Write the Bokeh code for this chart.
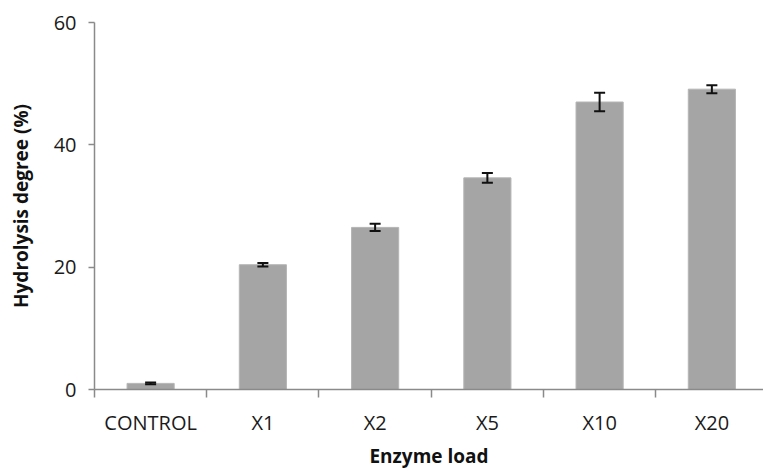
from bokeh.plotting import figure
from bokeh.models import Range1d, FixedTicker, Whisker, ColumnDataSource, TeeHead
from bokeh.embed import file_html
from bokeh.resources import INLINE

categories = ["CONTROL", "X1", "X2", "X5", "X10", "X20"]
values = [1.0, 20.4, 26.5, 34.6, 47.0, 49.1]
errors = [0.15, 0.3, 0.6, 0.8, 1.5, 0.65]
y_ticks = [0, 20, 40, 60]

xs = list(range(len(categories)))
src = ColumnDataSource(dict(
    x=xs, top=values,
    lower=[v - e for v, e in zip(values, errors)],
    upper=[v + e for v, e in zip(values, errors)],
))

FONT = "Open Sans"
AXIS_COLOR = "#8a8a8a"

p = figure(width=763, height=471, output_backend="svg", toolbar_location=None,
           x_range=Range1d(-0.5, len(categories) - 0.54), y_range=Range1d(0, 60),
           min_border_left=94, min_border_right=0, min_border_top=22, min_border_bottom=82)
p.outline_line_color = None
p.xgrid.visible = False
p.ygrid.visible = False
p.background_fill_color = "white"
p.border_fill_color = "white"

p.vbar(x="x", top="top", bottom=0, width=0.42, source=src,
       fill_color="#a5a5a5", line_color="#b5b5b5", line_width=1)

w = Whisker(base="x", lower="lower", upper="upper", source=src,
            line_color="#111111", line_width=2, level="overlay",
            upper_head=TeeHead(size=11, line_color="#111111", line_width=2),
            lower_head=TeeHead(size=11, line_color="#111111", line_width=2))
p.add_layout(w)

xa = p.xaxis[0]
xa.ticker = FixedTicker(ticks=xs, minor_ticks=[i - 0.5 for i in range(len(categories) + 1)])
xa.major_label_overrides = {i: c for i, c in enumerate(categories)}
xa.major_tick_out = 0
xa.major_tick_in = 0
xa.minor_tick_out = 8
xa.minor_tick_in = 0
xa.minor_tick_line_color = AXIS_COLOR
xa.minor_tick_line_width = 1.5
xa.axis_line_color = AXIS_COLOR
xa.axis_line_width = 1.5
xa.major_label_text_font = FONT
xa.major_label_text_font_size = "20px"
xa.major_label_text_color = "#1a1a1a"
xa.major_label_standoff = 11
xa.axis_label = "Enzyme load"
xa.axis_label_text_font = FONT
xa.axis_label_text_font_style = "bold"
xa.axis_label_text_font_size = "19px"
xa.axis_label_text_color = "#111111"
xa.axis_label_standoff = 4

ya = p.yaxis[0]
ya.ticker = FixedTicker(ticks=y_ticks, minor_ticks=[])
ya.major_tick_out = 6
ya.major_tick_in = 0
ya.major_tick_line_color = AXIS_COLOR
ya.major_tick_line_width = 1.5
ya.axis_line_color = AXIS_COLOR
ya.axis_line_width = 1.5
ya.major_label_text_font = FONT
ya.major_label_text_font_size = "20px"
ya.major_label_text_color = "#1a1a1a"
ya.major_label_standoff = 12
ya.axis_label = "Hydrolysis degree (%)"
ya.axis_label_text_font = FONT
ya.axis_label_text_font_style = "bold"
ya.axis_label_text_font_size = "19px"
ya.axis_label_text_color = "#111111"
ya.axis_label_standoff = 17

open("out.html", "w").write(file_html(p, INLINE))
